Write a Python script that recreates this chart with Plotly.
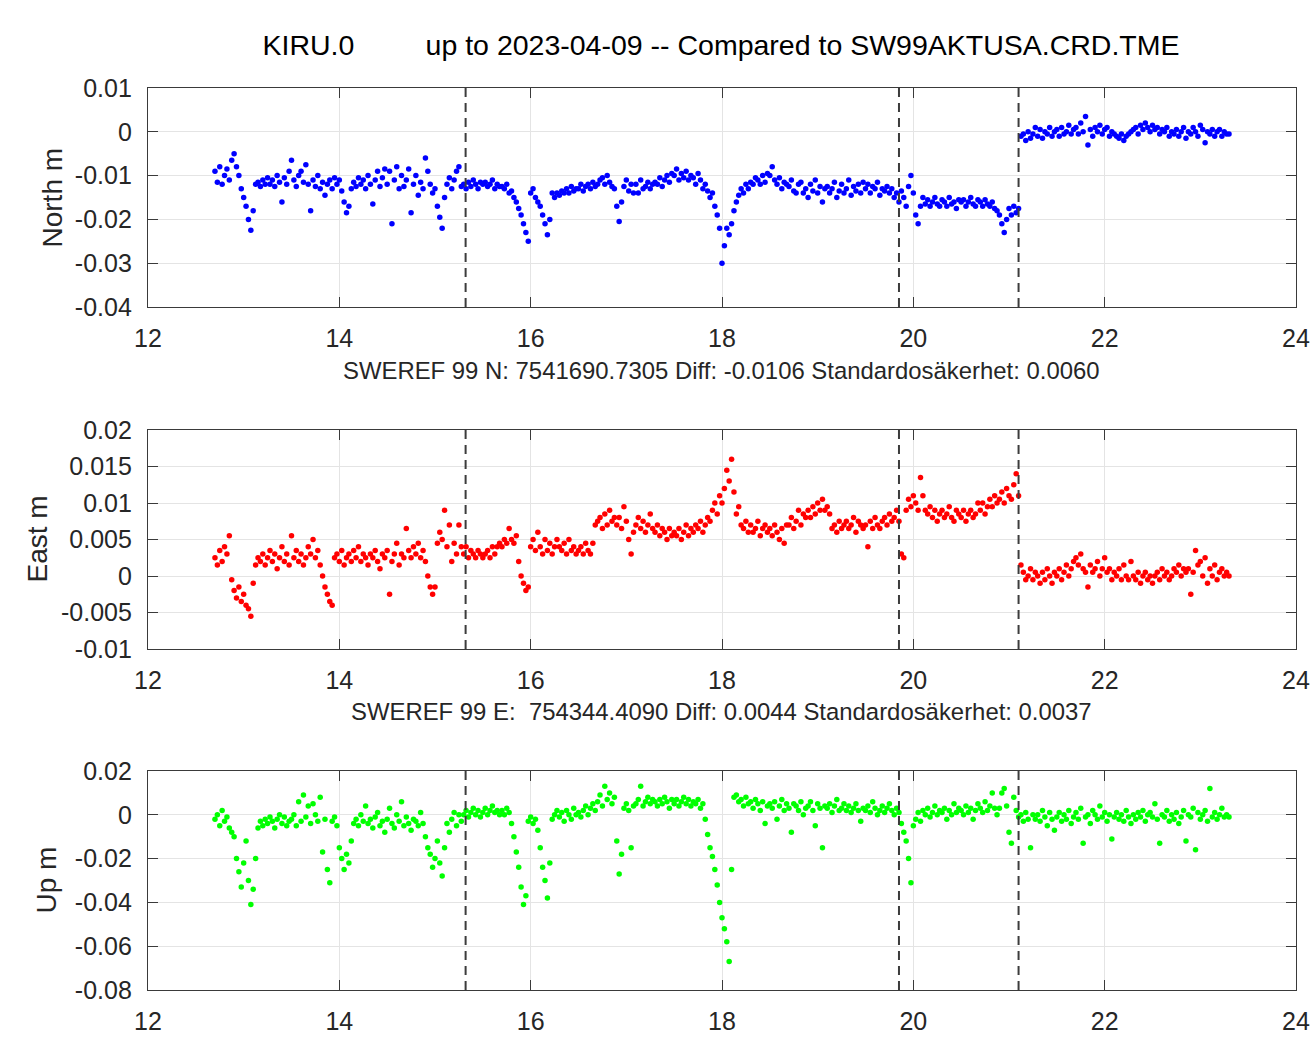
import plotly.graph_objects as go

# ---------------- data (epochs in decimal years since 2000, offsets in mm) ----------------
years = [
    12.700, 12.725, 12.750, 12.775, 12.800, 12.825, 12.850, 12.875,
    12.900, 12.925, 12.950, 12.975, 13.000, 13.025, 13.050, 13.075,
    13.100, 13.125, 13.150, 13.175, 13.200, 13.225, 13.250, 13.275,
    13.300, 13.325, 13.350, 13.375, 13.400, 13.425, 13.450, 13.475,
    13.500, 13.525, 13.550, 13.575, 13.600, 13.625, 13.650, 13.675,
    13.700, 13.725, 13.750, 13.775, 13.800, 13.825, 13.850, 13.875,
    13.900, 13.925, 13.950, 13.975, 14.000, 14.025, 14.050, 14.075,
    14.100, 14.125, 14.150, 14.175, 14.200, 14.225, 14.250, 14.275,
    14.300, 14.325, 14.350, 14.375, 14.400, 14.425, 14.450, 14.475,
    14.500, 14.525, 14.550, 14.575, 14.600, 14.625, 14.650, 14.675,
    14.700, 14.725, 14.750, 14.775, 14.800, 14.825, 14.850, 14.875,
    14.900, 14.925, 14.950, 14.975, 15.000, 15.025, 15.050, 15.075,
    15.100, 15.125, 15.150, 15.175, 15.200, 15.225, 15.250, 15.275,
    15.300, 15.325, 15.350, 15.375, 15.400, 15.425, 15.450, 15.475,
    15.500, 15.525, 15.550, 15.575, 15.600, 15.625, 15.650, 15.675,
    15.700, 15.725, 15.750, 15.775, 15.800, 15.825, 15.850, 15.875,
    15.900, 15.925, 15.950, 15.975, 16.000, 16.025, 16.050, 16.075,
    16.100, 16.125, 16.150, 16.175, 16.200, 16.225, 16.250, 16.275,
    16.300, 16.325, 16.350, 16.375, 16.400, 16.425, 16.450, 16.475,
    16.500, 16.525, 16.550, 16.575, 16.600, 16.625, 16.650, 16.675,
    16.700, 16.725, 16.750, 16.775, 16.800, 16.825, 16.850, 16.875,
    16.900, 16.925, 16.950, 16.975, 17.000, 17.025, 17.050, 17.075,
    17.100, 17.125, 17.150, 17.175, 17.200, 17.225, 17.250, 17.275,
    17.300, 17.325, 17.350, 17.375, 17.400, 17.425, 17.450, 17.475,
    17.500, 17.525, 17.550, 17.575, 17.600, 17.625, 17.650, 17.675,
    17.700, 17.725, 17.750, 17.775, 17.800, 17.825, 17.850, 17.875,
    17.900, 17.925, 17.950, 17.975, 18.000, 18.025, 18.050, 18.075,
    18.100, 18.125, 18.150, 18.175, 18.200, 18.225, 18.250, 18.275,
    18.300, 18.325, 18.350, 18.375, 18.400, 18.425, 18.450, 18.475,
    18.500, 18.525, 18.550, 18.575, 18.600, 18.625, 18.650, 18.675,
    18.700, 18.725, 18.750, 18.775, 18.800, 18.825, 18.850, 18.875,
    18.900, 18.925, 18.950, 18.975, 19.000, 19.025, 19.050, 19.075,
    19.100, 19.125, 19.150, 19.175, 19.200, 19.225, 19.250, 19.275,
    19.300, 19.325, 19.350, 19.375, 19.400, 19.425, 19.450, 19.475,
    19.500, 19.525, 19.550, 19.575, 19.600, 19.625, 19.650, 19.675,
    19.700, 19.725, 19.750, 19.775, 19.800, 19.825, 19.850, 19.875,
    19.900, 19.925, 19.950, 19.975, 20.000, 20.025, 20.050, 20.075,
    20.100, 20.125, 20.150, 20.175, 20.200, 20.225, 20.250, 20.275,
    20.300, 20.325, 20.350, 20.375, 20.400, 20.425, 20.450, 20.475,
    20.500, 20.525, 20.550, 20.575, 20.600, 20.625, 20.650, 20.675,
    20.700, 20.725, 20.750, 20.775, 20.800, 20.825, 20.850, 20.875,
    20.900, 20.925, 20.950, 20.975, 21.000, 21.025, 21.050, 21.075,
    21.100, 21.125, 21.150, 21.175, 21.200, 21.225, 21.250, 21.275,
    21.300, 21.325, 21.350, 21.375, 21.400, 21.425, 21.450, 21.475,
    21.500, 21.525, 21.550, 21.575, 21.600, 21.625, 21.650, 21.675,
    21.700, 21.725, 21.750, 21.775, 21.800, 21.825, 21.850, 21.875,
    21.900, 21.925, 21.950, 21.975, 22.000, 22.025, 22.050, 22.075,
    22.100, 22.125, 22.150, 22.175, 22.200, 22.225, 22.250, 22.275,
    22.300, 22.325, 22.350, 22.375, 22.400, 22.425, 22.450, 22.475,
    22.500, 22.525, 22.550, 22.575, 22.600, 22.625, 22.650, 22.675,
    22.700, 22.725, 22.750, 22.775, 22.800, 22.825, 22.850, 22.875,
    22.900, 22.925, 22.950, 22.975, 23.000, 23.025, 23.050, 23.075,
    23.100, 23.125, 23.150, 23.175, 23.200, 23.225, 23.250, 23.275,
    23.300,
]

north_mm = [
    -9, -11.5, -8, -12, -10, -8.5, -11, -6.5,
    -5, -8, -10, -13, -15, -17, -20, -22.5,
    -18, -12, -11.5, -12.5, -11, -12, -10.5, -12,
    -11, -12.5, -10, -11.5, -16, -10.5, -12, -9,
    -6.5, -11, -12.5, -10, -9, -11.5, -7.5, -12,
    -18, -11, -12.5, -10, -13, -11.5, -14.5, -12,
    -11, -13, -10.5, -12, -11, -13.5, -16, -18.5,
    -17, -13, -11.5, -12.5, -10.5, -12, -11, -13,
    -10, -12, -16.5, -11, -9, -12.5, -10.5, -8.5,
    -12, -9, -21, -11, -8, -13, -10, -12.5,
    -11, -8.5, -18.5, -12, -10, -14.5, -11.5, -13,
    -6, -9, -12, -14, -13, -17, -19.5, -22,
    -15, -12, -10.5, -13, -11, -9, -8, -12.5,
    -12, -13, -11.5, -12.5, -11, -12, -13, -11.5,
    -12, -11.5, -12.5, -12, -11, -13, -12, -12.5,
    -12.5, -13, -12, -14, -13.5, -15, -16, -17.5,
    -19, -21, -23, -25, -14, -13, -15, -16,
    -17, -19, -21, -23.5, -20, -14, -15, -14,
    -14.5, -13.5, -14, -13, -14, -12.5, -13.5, -13,
    -13, -12, -13.5, -12.5, -12, -13, -11.5, -12.5,
    -12, -11, -10.5, -12, -10, -11.5, -12.5, -13,
    -17, -20.5, -16, -12.5, -11, -13.5, -12, -14,
    -12, -14, -11, -13, -12.5, -11.5, -13, -12,
    -11.5, -12, -10.5, -12.5, -11, -10, -11.5, -9.5,
    -10, -8.5, -11, -9.5, -10.5, -9, -11, -10,
    -10.5, -12, -9.5, -11, -13, -12, -13.5, -15,
    -14, -17, -19, -22, -30, -26, -22, -23.5,
    -21, -18, -16, -14.5, -13, -14, -12, -13,
    -11.5, -12, -10.5, -11, -12, -10, -11.5, -9.5,
    -10, -8, -11, -12, -10.5, -13, -11.5, -12,
    -12.5, -11, -13.5, -14, -12, -11.5, -14, -13,
    -15, -12, -13.5, -11, -14, -12.5, -16, -13,
    -12.5, -14, -13, -11.5, -15, -13.5, -12, -14,
    -13, -11, -14.5, -12.5, -13.5, -12, -14, -11.5,
    -13, -12, -14, -12.5, -13, -11.5, -14.5, -13,
    -13.5, -12.5, -14, -13, -15, -14, -16, -13.5,
    -15, -17, -12.5, -10, -14, -19, -21, -17,
    -15, -16.5, -15.5, -17, -16, -15, -16.5, -17,
    -15.5, -16, -17, -15, -16.5, -16, -17.5, -15.5,
    -16, -15.5, -17, -16, -15, -16.5, -17, -15.5,
    -16, -17, -15.5, -16.5, -17, -16, -17.5, -18,
    -19, -21, -23, -20, -17.5, -19, -17, -18.5,
    -17.5, -1, -0.5, -2, 0, -1.5, -0.5, 1,
    -1, 0.5, -1.5, 0, -0.5, 1, -1, 0,
    0.5, -1, 1, -0.5, 0, 1.5, -0.5, 0.5,
    1, -0.5, 2, 0, 3.5, -3, 0.5, -1,
    1, 0, 1.5, -0.5, 0.5, 1, -1, 0,
    -0.5, -1, -1.5, -0.5, -2, -1, -0.5, 0,
    0.5, 1, -0.5, 1.5, 0.5, 2, 1, 0,
    1.5, 0.5, 1, -0.5, 0.5, 0, 1, -1,
    0, -0.5, 0.5, -1, 0, 1, -1.5, 0,
    -0.5, 1, 0, -1, 1.5, 0.5, -2.5, 0,
    -0.5, 0.5, -1, 0, 0.5, -1, 0, -0.5,
    -0.5,
]

east_mm = [
    2.5, 1.5, 3.5, 2, 4, 3, 5.5, -0.5,
    -2, -3, -1.5, -3.5, -2.5, -4, -4.5, -5.5,
    -1, 1.5, 2.5, 2, 3, 1.5, 2.5, 3.5,
    2, 3, 1, 2.5, 4, 2, 3, 1.5,
    5.5, 2.5, 3.5, 2, 3, 1.5, 2.5, 4,
    3, 5, 2.5, 3.5, 1.5, 0, -1.5, -2.5,
    -3.5, -4, 2.5, 3, 2, 3.5, 1.5, 2.5,
    3, 2, 3.5, 2.5, 4, 2, 3, 2.5,
    1.5, 3, 2.5, 3.5, 2, 1, 3, 2.5,
    3.5, -2.5, 2, 3, 4.5, 1.5, 3, 2.5,
    6.5, 3.5, 2.5, 4, 3, 4.5, 2.5, 3.5,
    2, 0, -1.5, -2.5, -1.5, 4.5, 6, 5,
    9, 4, 7, 2, 4.5, 3, 7, 4,
    3, 4, 2.5, 3.5, 3, 2.5, 3.5, 3,
    2.5, 3, 3.5, 2.5, 4, 3, 4, 4.5,
    4, 5, 4.5, 6.5, 5, 4.5, 5.5, 2,
    0, -1, -2, -1.5, 4, 5, 3.5, 6,
    4, 3, 5, 3.5, 4.5, 3, 4, 5,
    4, 3.5, 4.5, 3, 5, 3.5, 4, 3,
    3.5, 4, 3, 4.5, 3.5, 3, 4.5, 7,
    7.5, 8, 6.5, 8.5, 7, 9, 7.5, 8,
    7, 8, 6.5, 9.5, 7.5, 5, 3, 6,
    7, 8, 6.5, 7.5, 6, 7, 8.5, 6.5,
    6, 7, 5.5, 6.5, 6, 5, 6.5, 5.5,
    6, 5.5, 6.5, 5, 6, 7, 5.5, 6.5,
    6, 7, 6.5, 7.5, 6, 7, 8, 7.5,
    9, 10, 8.5, 11, 10, 12, 14.5, 13,
    16, 11.5, 8.5, 9.5, 7, 6.5, 7.5, 6,
    7, 6, 6.5, 7.5, 5.5, 6.5, 7, 6,
    6.5, 5.5, 7, 6, 5, 6.5, 4.5, 7,
    7, 8, 6.5, 7.5, 9, 7, 8.5, 8,
    9, 8, 9.5, 8.5, 10, 9, 10.5, 9,
    9.5, 8.5, 6.5, 7, 6, 7.5, 6.5, 7,
    7.5, 6.5, 7, 8, 6, 7.5, 7, 6.5,
    7, 4, 7.5, 6.5, 8, 7, 6.5, 7.5,
    8, 7, 8.5, 7.5, 8, 9, 7.5, 3,
    2.5, 9, 10.5, 9.5, 11, 10, 9, 13.5,
    11, 9, 8.5, 9.5, 8, 9, 7.5, 8.5,
    9, 8, 8.5, 9.5, 8, 7.5, 9, 8.5,
    8, 9, 7.5, 8.5, 9, 8, 8.5, 10,
    9, 10, 8.5, 9.5, 10.5, 9.5, 11, 10,
    10.5, 11.5, 10, 12, 11, 10.5, 12.5, 14,
    11, 1.5, 0.5, -0.5, 0, 1, -0.5, 0.5,
    0, -1, 0.5, -0.5, 1, 0, -1, 0.5,
    0, 1, -0.5, 0.5, 1.5, 0, 1, 2,
    2.5, 1.5, 3, 1, 0.5, -1.5, 1.5, 0.5,
    1, 2, 0, 1, 2.5, 0.5, 1, -0.5,
    0.5, 0, 1, -0.5, 1.5, 0, -0.5, 2,
    0, -0.5, 0.5, -1, 0, 0.5, -0.5, 0,
    -1, 0, 0.5, -0.5, 1, 0, 0.5, -0.5,
    0, 1, 0.5, 1.5, 0, 1, 0.5, 1,
    -2.5, 0.5, 3.5, 1.5, 2, 0, 2.5, -1,
    1, 0, 1.5, -0.5, 0.5, 1, 0, 0.5,
    0,
]

up_mm = [
    -2, 0, -5, 2, -3, -1, -6, -8,
    -10, -20, -26, -33, -22, -12, -30, -41,
    -34, -20, -6, -3, -5, -2, -4, -1,
    -3, -6, -2, 0, -4, -1, -5, -3,
    -2, 0, -5, 6, -3, 9, -1, 4,
    -4, 5, 0, -3, 8, -17, -2, -25,
    -31, -3, -1, -5, -15, -20, -25, -18,
    -22, -12, -4, -2, -5, 0, -3, 4,
    -4, -2, -6, -1, 1, -5, -3, -8,
    -2, 3, -4, -6, 0, -3, 6, -5,
    -1, -4, -7, -2, -3, -5, 1, -4,
    -10, -15, -18, -24, -20, -12, -22, -28,
    -15, -4, -8, -2, 1, -5, 0, -3,
    0, 2, -1, 1, 3, 0, 2, -1,
    1, 3, 0, 2, 4, 1, 2, 0,
    2, 0, 3, 1, -4, -10, -17, -24,
    -33, -41, -37, -3, -1, -4, -2, -7,
    -15, -24, -30, -38, -22, -2, 0, 2,
    -1, 1, -3, 2, 0, -2, 3, 0,
    1, -1, 2, 4, 0, 3, 5, 2,
    6, 9, 4, 13, 7, 10, 5, 8,
    -12, -27, -18, 3, 5, 2, -15, 4,
    5, 7, 13, 4, 6, 8, 5, 7,
    6, 4, 7, 5, 8, 6, 3, 7,
    5, 7, 4, 6, 8, 5, 7, 4,
    6, 5, 7, 3, 5, -2, -9, -15,
    -19, -25, -32, -40, -47, -52, -58, -67,
    -25, 8, 9, 6, 7, 4, 8, 5,
    6, 3, 7, 5, 2, 6, -4, 4,
    5, 3, 6, -2, 4, 7, 2, 5,
    3, -8, 5, 4, 2, 6, 0, 3,
    4, 6, 2, -5, 5, 3, -15, 4,
    3, 5, 1, 4, 7, 2, 3, 5,
    2, 4, 1, 3, 5, 2, -3, 3,
    2, 4, 1, 6, 3, 0, 2, 4,
    1, 3, 5, 2, 0, 3, 1, -4,
    -8, -12, -20, -31, -5, -2, 1, -3,
    2, 0, 3, -1, 1, 4, 0, 2,
    1, 3, -2, 2, 0, 5, 1, 3,
    2, 0, 4, 1, 3, -2, 2, 5,
    3, 1, 6, 2, 4, 10, 3, 0,
    3, 10, 12, 4, -8, -13, 8, 2,
    -1, 0, -3, 1, -2, -15, 0, -2,
    0, -3, 2, -1, -5, 1, -2, -7,
    -1, 1, -3, 0, -2, 2, -4, -1,
    1, -2, 3, -13, -1, 0, -4, 2,
    0, -2, 4, -1, 1, -3, 0, -11,
    -1, 1, -2, 0, -3, 2, -1, -4,
    0, -2, 1, -1, 2, -3, 0, 1,
    -1, 5, -2, -13, 0, -1, 2, -3,
    0, -2, 1, -4, -1, 2, -12, 0,
    -1, 3, -16, 1, -2, 0, 2, -3,
    12, -1, 1, -2, 0, 3, -1, 0,
    -1,
]

# equipment / reference-frame change epochs (dashed lines)
event_epochs = [15.32, 19.85, 21.10]

x_ticks = [12, 14, 16, 18, 20, 22, 24]
north_ticks = [0.01, 0, -0.01, -0.02, -0.03, -0.04]
north_ticklabels = ["0.01", "0", "-0.01", "-0.02", "-0.03", "-0.04"]
east_ticks = [0.02, 0.015, 0.01, 0.005, 0, -0.005, -0.01]
east_ticklabels = ["0.02", "0.015", "0.01", "0.005", "0", "-0.005", "-0.01"]
up_ticks = [0.02, 0, -0.02, -0.04, -0.06, -0.08]
up_ticklabels = ["0.02", "0", "-0.02", "-0.04", "-0.06", "-0.08"]

title_text = "KIRU.0" + "\u00a0" * 9 + "up to 2023-04-09 -- Compared to SW99AKTUSA.CRD.TME"
xlabels = [
    "SWEREF 99 N: 7541690.7305 Diff: -0.0106 Standardosäkerhet: 0.0060",
    "SWEREF 99 E:\u00a0\u00a0754344.4090 Diff: 0.0044 Standardosäkerhet: 0.0037",
    "SWEREF 99 H:\u00a0\u00a0485.0350 Diff: 0.0024 Standardosäkerhet: 0.0101",
]
ylabels = ["North m", "East m", "Up m"]

# ---------------- figure ----------------
assert len(years) == len(north_mm) == len(east_mm) == len(up_mm)

north = [v / 1000 for v in north_mm]
east = [v / 1000 for v in east_mm]
up = [v / 1000 for v in up_mm]

W, H = 1310, 1043
L, R, T, B = 148, 14, 88, 53
plot_h = H - T - B

def dom(top_px, bot_px):
    return [(H - B - bot_px) / plot_h, (H - B - top_px) / plot_h]

panels = [
    dict(y=north, color="#0000ff", rng=[-0.04, 0.01], tv=north_ticks, tt=north_ticklabels,
         dom=dom(88, 307), xl_y=370, yl_x=52),
    dict(y=east, color="#ff0000", rng=[-0.01, 0.02], tv=east_ticks, tt=east_ticklabels,
         dom=dom(430, 649), xl_y=711, yl_x=37),
    dict(y=up, color="#00ff00", rng=[-0.08, 0.02], tv=up_ticks, tt=up_ticklabels,
         dom=dom(771, 990), xl_y=1051, yl_x=46),
]

FONT = "Liberation Sans, Arial, Helvetica, sans-serif"
axis_common = dict(
    showgrid=True, gridcolor="#e4e4e4", gridwidth=1,
    showline=True, linecolor="#3a3a3a", linewidth=1.3, mirror="allticks",
    ticks="inside", ticklen=10, tickwidth=1.2, tickcolor="#3a3a3a",
    zeroline=False, automargin=False,
    tickfont=dict(family=FONT, size=25, color="#262626"),
)

fig = go.Figure()
layout = dict(
    width=W, height=H, autosize=False,
    margin=dict(l=L, r=R, t=T, b=B, autoexpand=False),
    paper_bgcolor="white", plot_bgcolor="white",
    showlegend=False,
    font=dict(family=FONT, color="#262626"),
    title=dict(text=title_text, x=721 / W, xanchor="center", y=1 - 45 / H, yanchor="middle",
               font=dict(family=FONT, size=28.5, color="#000000")),
)
annotations = []
shapes = []

for i, p in enumerate(panels):
    n = "" if i == 0 else str(i + 1)
    fig.add_trace(go.Scatter(
        x=years, y=p["y"], mode="markers",
        marker=dict(color=p["color"], size=5.5, line=dict(width=0)),
        xaxis="x" + n, yaxis="y" + n, hoverinfo="x+y",
    ))
    layout["xaxis" + n] = dict(axis_common, domain=[0, 1], range=[12, 24], tickvals=x_ticks,
                               ticktext=[str(t) for t in x_ticks], anchor="y" + n,
                               ticklabelstandoff=9)
    layout["yaxis" + n] = dict(axis_common, domain=p["dom"], range=p["rng"], tickvals=p["tv"],
                               ticktext=p["tt"], anchor="x" + n, ticklabelstandoff=10)
    annotations.append(dict(
        text=xlabels[i], xref="paper", yref="paper",
        x=(721 - L) / (W - L - R), y=(H - B - p["xl_y"]) / plot_h,
        xanchor="center", yanchor="middle", showarrow=False,
        font=dict(family=FONT, size=23.9, color="#262626"),
    ))
    top_px = H - B - p["dom"][1] * plot_h
    bot_px = H - B - p["dom"][0] * plot_h
    annotations.append(dict(
        text=ylabels[i], xref="paper", yref="paper", textangle=-90,
        x=(p["yl_x"] - L) / (W - L - R), y=(H - B - (top_px + bot_px) / 2) / plot_h,
        xanchor="center", yanchor="middle", showarrow=False,
        font=dict(family=FONT, size=28, color="#262626"),
    ))
    for ev in event_epochs:
        shapes.append(dict(
            type="line", xref="x" + n, yref="y" + n + " domain",
            x0=ev, x1=ev, y0=0, y1=1, layer="above",
            line=dict(color="#3c3c3c", width=2, dash="9px,6px"),
        ))

layout["annotations"] = annotations
layout["shapes"] = shapes
fig.update_layout(**layout)
fig.write_html(
    "out.html",
    config={"displayModeBar": False, "responsive": False},
    post_script="document.body.style.margin='0';document.body.style.overflow='hidden';",
)
